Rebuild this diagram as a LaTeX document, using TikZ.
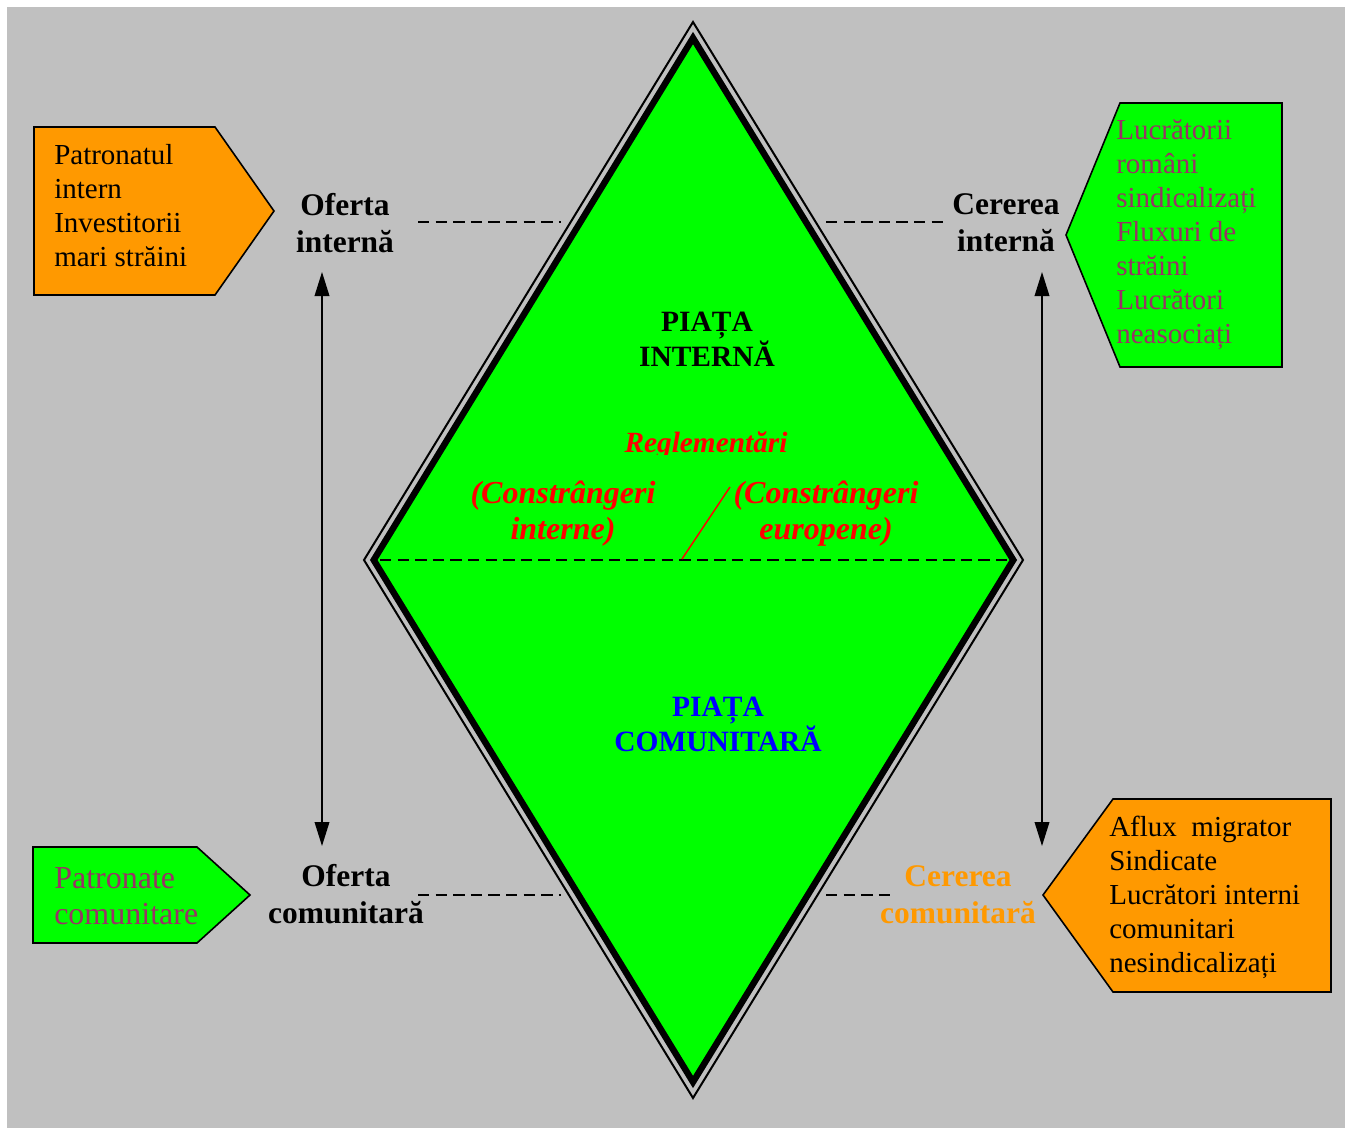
\documentclass[tikz,border=0pt]{standalone}
\usepackage{fontspec}
\setmainfont{Liberation Serif}
\usetikzlibrary{arrows.meta}
\definecolor{bggray}{HTML}{C0C0C0}
\definecolor{vgreen}{HTML}{00FF00}
\definecolor{vorange}{HTML}{FF9900}
\definecolor{vpurple}{HTML}{993366}
\definecolor{vred}{HTML}{FF0000}
\definecolor{vblue}{HTML}{0000FF}
\begin{document}
\begin{tikzpicture}[x=0.75pt,y=-0.75pt,
  lbl/.style={inner sep=0pt, align=center, font=\fontsize{23.6pt}{27.75pt}\selectfont\bfseries},
  boxtxt/.style={inner sep=0pt, anchor=west, align=left, font=\fontsize{21.75pt}{25.5pt}\selectfont},
  bigboxtxt/.style={boxtxt, font=\fontsize{24pt}{27pt}\selectfont},
  mkt/.style={inner sep=0pt, align=center, font=\fontsize{22.1pt}{26.25pt}\selectfont\bfseries},
  redtxt/.style={inner sep=0pt, align=center, text=vred, font=\fontsize{24pt}{27.5pt}\selectfont\bfseries\itshape},
  regtxt/.style={redtxt, font=\fontsize{22pt}{26pt}\selectfont\bfseries\itshape},
  tagbox/.style={draw=black, line width=1.2pt, line join=miter},
  dashline/.style={line width=1.8pt, dash pattern=on 8.5pt off 4.7pt},
  dblarrow/.style={line width=1.1pt, {Triangle[length=18pt,width=11pt]}-{Triangle[length=18pt,width=11pt]}}
]
\useasboundingbox (0,0) rectangle (1345,1128);
\fill[white] (0,0) rectangle (1345,1128);
\fill[bggray] (7,7) rectangle (1345,1128);

% diamond
\coordinate (oT) at (693,22);
\coordinate (oR) at (1023,560);
\coordinate (oB) at (693,1098);
\coordinate (oL) at (364,560);
\coordinate (iT) at (693,38);
\coordinate (iR) at (1013.3,560);
\coordinate (iB) at (693,1082);
\coordinate (iL) at (373.7,560);
\fill[vgreen] (iT) -- (iR) -- (iB) -- (iL) -- cycle;
\draw[line width=1.5pt, line join=miter] (oT) -- (oR) -- (oB) -- (oL) -- cycle;
\draw[line width=4.8pt, line join=miter] (iT) -- (iR) -- (iB) -- (iL) -- cycle;

% middle dashed line and slash
\coordinate (mL) at (380,560);
\coordinate (mR) at (1008,560);
\draw[dashline] (mL) -- (mR);
\coordinate (s1) at (682,559);
\coordinate (s2) at (730,487);
\draw[vred, line width=1.1pt] (s1) -- (s2);

% tag boxes
\fill[vorange] (34,127) -- (215,127) -- (274,211) -- (215,295) -- (34,295) -- cycle;
\draw[tagbox] (34,127) -- (215,127) -- (274,211) -- (215,295) -- (34,295) -- cycle;
\fill[vgreen] (1120,103) -- (1282,103) -- (1282,367) -- (1120,367) -- (1066,235) -- cycle;
\draw[tagbox] (1120,103) -- (1282,103) -- (1282,367) -- (1120,367) -- (1066,235) -- cycle;
\fill[vgreen] (33,847) -- (197,847) -- (250,895) -- (197,943) -- (33,943) -- cycle;
\draw[tagbox] (33,847) -- (197,847) -- (250,895) -- (197,943) -- (33,943) -- cycle;
\fill[vorange] (1113,799) -- (1331,799) -- (1331,992) -- (1113,992) -- (1043,895) -- cycle;
\draw[tagbox] (1113,799) -- (1331,799) -- (1331,992) -- (1113,992) -- (1043,895) -- cycle;

\node[boxtxt] (tl) at (54,205.5) {Patronatul\\intern\\Investitorii\\mari străini};
\node[boxtxt, text=vpurple] (tr) at (1116,235) {Lucrătorii\\români\\sindicalizați\\Fluxuri de\\străini\\Lucrători\\neasociați};
\node[bigboxtxt, text=vpurple] (bl) at (54,896) {Patronate\\comunitare};
\node[boxtxt] (br) at (1109,897.5) {Aflux\ \ migrator\\Sindicate\\Lucrători interni\\comunitari\\nesindicalizați};

% labels
\node[lbl] (oi) at (345,223) {Oferta\\internă};
\node[lbl] (ci) at (1006,223) {Cererea\\internă};
\node[lbl] (oc) at (346,894.5) {Oferta\\comunitară};
\node[lbl, text=vorange] (cc) at (958,894.5) {Cererea\\comunitară};

% center texts
\node[mkt] (pi) at (707,339) {PIAȚA\\INTERNĂ};
\node[mkt, text=vblue] (pc) at (718,724) {PIAȚA\\COMUNITARĂ};
\begin{scope}
\clip (580,400) rectangle (840,454);
\node[regtxt, anchor=base] (reg) at (706,452.5) {Reglementări};
\end{scope}
\node[redtxt] (cint) at (563,513.5) {(Constrângeri\\interne)};
\node[redtxt] (ceur) at (826,513.5) {(Constrângeri\\europene)};

% dashed connectors to the diamond
\coordinate (e1) at (561,222);
\coordinate (e2) at (826,222);
\coordinate (e3) at (561,895);
\coordinate (e4) at (826,895);
\draw[dashline] (e1 -| 418,0) -- (e1);
\draw[dashline] (e2) -- (e2 -| 946,0);
\draw[dashline] (e3 -| 418,0) -- (e3);
\draw[dashline] (e4) -- (e4 -| 893,0);

% vertical double arrows
\coordinate (a1) at (322,272);
\coordinate (a2) at (322,846);
\coordinate (b1) at (1042,272);
\coordinate (b2) at (1042,846);
\draw[dblarrow] (a1) -- (a2);
\draw[dblarrow] (b1) -- (b2);
\end{tikzpicture}
\end{document}
